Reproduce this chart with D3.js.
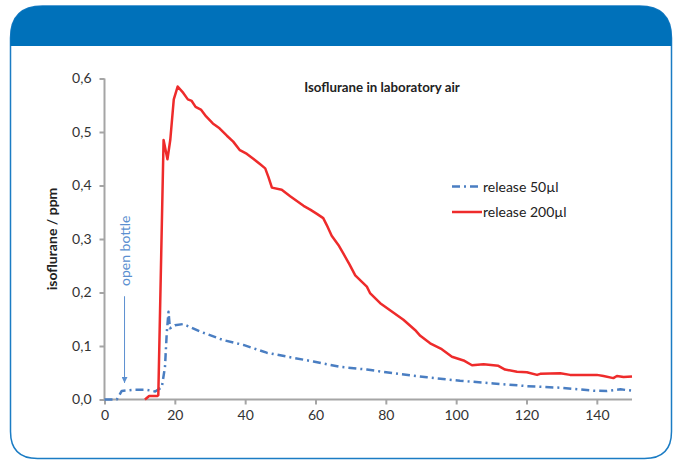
<!DOCTYPE html>
<html><head><meta charset="utf-8">
<script src="https://cdn.jsdelivr.net/npm/d3@7"></script>
<style>
html,body{margin:0;padding:0;background:#fff;}
svg text{font-family:Lato,"Noto Sans",sans-serif;}
</style></head>
<body>
<svg id="chart" width="680" height="461"></svg>
<script>
// ---- data ----
const title = "Isoflurane in laboratory air";
const yLabel = "isoflurane / ppm";
const seriesNames = ["release 50µl", "release 200µl"];
const xTicks = [0, 20, 40, 60, 80, 100, 120, 140];
const yTicks = [0, 0.1, 0.2, 0.3, 0.4, 0.5, 0.6];

const x50 = [0, 3.5, 4.9, 8.2, 12, 14.4, 16.3, 17.2, 17.7, 18.2, 18.6, 20, 22.4, 27.2, 33.8, 39.5, 46.1, 52.8, 59.4, 67, 74.6, 82.2, 91.7, 101.1, 110.6, 120.1, 129.6, 139.1, 142.9, 146.7, 150];
const y50 = [0, 0, 0.016, 0.018, 0.018, 0.015, 0.023, 0.061, 0.124, 0.164, 0.133, 0.139, 0.141, 0.127, 0.111, 0.102, 0.0875, 0.079, 0.071, 0.061, 0.056, 0.049, 0.0415, 0.035, 0.030, 0.025, 0.022, 0.0165, 0.016, 0.019, 0.0165];

const x200 = [11.5, 12.7, 15.0, 15.3, 16.8, 17.9, 18.7, 19.7, 20.8, 22.4, 23.7, 24.8, 25.9, 27.4, 28.9, 30.8, 32.7, 34.8, 36.6, 38.5, 40.5, 42.3, 44.2, 45.7, 46.6, 47.6, 50.4, 52.8, 54.7, 56.6, 58.5, 60.4, 62.2, 63.2, 64.6, 66.5, 67.9, 69.7, 71.3, 73.2, 74.6, 75.5, 78.4, 81.2, 85.0, 88.3, 89.8, 92.6, 95.9, 98.8, 102.1, 104.5, 107.8, 112.0, 113.9, 117.3, 120.1, 123.0, 123.9, 129.6, 132.4, 136.2, 140.0, 141.9, 144.7, 145.7, 147.6, 150.0];
const y200 = [0, 0.0065, 0.0065, 0.008, 0.485, 0.449, 0.485, 0.561, 0.585, 0.573, 0.561, 0.558, 0.547, 0.542, 0.529, 0.516, 0.507, 0.493, 0.482, 0.466, 0.459, 0.450, 0.440, 0.432, 0.416, 0.396, 0.392, 0.380, 0.371, 0.362, 0.355, 0.347, 0.339, 0.326, 0.306, 0.289, 0.273, 0.252, 0.232, 0.220, 0.211, 0.199, 0.180, 0.167, 0.149, 0.130, 0.119, 0.105, 0.094, 0.080, 0.073, 0.064, 0.066, 0.063, 0.056, 0.052, 0.051, 0.046, 0.048, 0.049, 0.046, 0.046, 0.046, 0.044, 0.040, 0.044, 0.042, 0.043];

const annotText = "open bottle";
const annotX = 5.7;
const annotTextY = 0.278;
const arrowFromY = 0.193;
const arrowToY = 0.031;

// ---- drawing ----
const svg = d3.select("#chart");
const frameBlue = "#1b7cc4";
const barBlue = "#0071ba";

// frame
const L = 10.5, R = 671.5, T = 6, B = 458.5, rTop = 32, rBot = 27;
const framePath = `M${L},${T + rTop} Q${L},${T} ${L + rTop},${T} L${R - rTop},${T} Q${R},${T} ${R},${T + rTop} L${R},${B - rBot} Q${R},${B} ${R - rBot},${B} L${L + rBot},${B} Q${L},${B} ${L},${B - rBot} Z`;
svg.append("path").attr("d", framePath).attr("fill", "#fff").attr("stroke", frameBlue).attr("stroke-width", 1.5);
const barBottom = 46;
const barPath = `M${L},${barBottom} L${L},${T + rTop} Q${L},${T} ${L + rTop},${T} L${R - rTop},${T} Q${R},${T} ${R},${T + rTop} L${R},${barBottom} Z`;
svg.append("path").attr("d", barPath).attr("fill", barBlue);

const x = d3.scaleLinear().domain([0, 150]).range([104.5, 632]);
const y = d3.scaleLinear().domain([0, 0.6]).range([399.5, 78.5]);
const fmt = d => d3.format(".1f")(d).replace(".", ",");

const axisColor = "#a5a5a5";
const gy = svg.append("g").attr("transform", `translate(${x(0)},0)`)
  .call(d3.axisLeft(y).tickValues(yTicks).tickSize(5).tickPadding(8).tickFormat(fmt));
const gx = svg.append("g").attr("transform", `translate(0,${y(0)})`)
  .call(d3.axisBottom(x).tickValues(xTicks).tickSize(5).tickPadding(6).tickFormat(d3.format("d")));
[gx, gy].forEach(g => {
  g.select(".domain").attr("stroke", axisColor).attr("stroke-width", 2);
  g.selectAll(".tick line").attr("stroke", axisColor).attr("stroke-width", 2);
  g.selectAll(".tick text").attr("fill", "#333").style("font-size", "14px").style("font-family", "Lato, sans-serif");
});
gx.select(".domain").attr("d", `M${x(0)},0H${x(150)}`);
gy.select(".domain").attr("d", `M0,${y(0)}V${y(0.6)}`);

// lines
const line = d3.line().x(d => x(d[0])).y(d => y(d[1]));
const d50 = x50.map((v, i) => [v, y50[i]]);
const d200 = x200.map((v, i) => [v, y200[i]]);
const blue = "#4a7ec2", red = "#ee2b2b";
svg.append("path").datum(d50).attr("d", line).attr("fill", "none")
  .attr("stroke", blue).attr("stroke-width", 2.5).attr("stroke-dasharray", "8,4,2,4").attr("stroke-linejoin", "round");
svg.append("path").datum(d200).attr("d", line).attr("fill", "none")
  .attr("stroke", red).attr("stroke-width", 2.5).attr("stroke-linejoin", "round");

// title
svg.append("text").attr("x", 382).attr("y", 92).attr("text-anchor", "middle")
  .style("font-size", "13.3px").style("font-weight", "bold").attr("fill", "#222").text(title);

// y label
svg.append("text").attr("transform", `translate(57,${y(0.3)})rotate(-90)`).attr("text-anchor", "middle")
  .style("font-size", "14px").style("font-weight", "bold").attr("fill", "#222").text(yLabel);

// legend
const legX0 = 452, legX1 = 482;
const legY = [186.5, 212];
svg.append("line").attr("x1", legX0).attr("x2", legX1).attr("y1", legY[0]).attr("y2", legY[0])
  .attr("stroke", blue).attr("stroke-width", 2.5).attr("stroke-dasharray", "8,4,2,4");
svg.append("line").attr("x1", legX0).attr("x2", legX1).attr("y1", legY[1]).attr("y2", legY[1])
  .attr("stroke", red).attr("stroke-width", 2.5);
seriesNames.forEach((n, i) => {
  svg.append("text").attr("x", legX1 + 1).attr("y", legY[i] + 5)
    .style("font-size", "14px").attr("fill", "#222").text(n);
});

// annotation
const annColor = "#5b8fd0";
svg.append("text").attr("transform", `translate(${x(annotX) + 5},${y(annotTextY)})rotate(-90)`)
  .attr("text-anchor", "middle").style("font-size", "14px").attr("fill", annColor).text(annotText);
svg.append("defs").append("marker").attr("id", "arr").attr("viewBox", "0 0 10 10")
  .attr("refX", 10).attr("refY", 5).attr("markerWidth", 6).attr("markerHeight", 6)
  .attr("markerUnits", "userSpaceOnUse").attr("orient", "auto")
  .append("path").attr("d", "M0,0L10,5L0,10Z").attr("fill", annColor);
svg.append("line").attr("x1", x(annotX)).attr("x2", x(annotX)).attr("y1", y(arrowFromY)).attr("y2", y(arrowToY))
  .attr("stroke", annColor).attr("stroke-width", 1).attr("marker-end", "url(#arr)");
</script>
</body></html>
